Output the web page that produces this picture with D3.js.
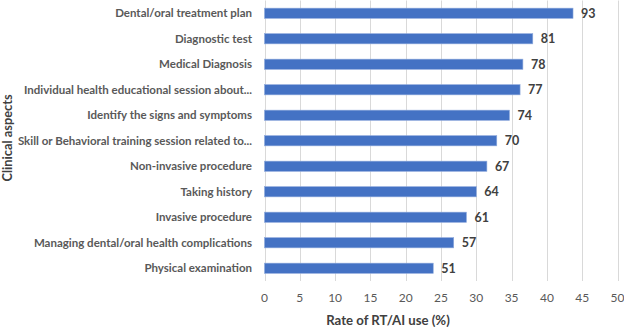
<!DOCTYPE html>
<html>
<head>
<meta charset="utf-8">
<script src="https://cdn.jsdelivr.net/npm/d3@7/dist/d3.min.js"></script>
<style>
  html, body { margin: 0; padding: 0; background: #fff; }
  svg { display: block; }
  text { font-family: Lato, "Open Sans", sans-serif; }
</style>
</head>
<body>
<div id="chart"></div>
<script>
const categories = [
  "Dental/oral treatment plan",
  "Diagnostic test",
  "Medical Diagnosis",
  "Individual health educational session about...",
  "Identify the signs and symptoms",
  "Skill or Behavioral training session related to...",
  "Non-invasive procedure",
  "Taking history",
  "Invasive procedure",
  "Managing dental/oral health complications",
  "Physical examination"
];
const rates = [43.7, 38.0, 36.6, 36.2, 34.7, 32.9, 31.5, 30.0, 28.6, 26.8, 23.9];
const counts = [93, 81, 78, 77, 74, 70, 67, 64, 61, 57, 51];
const xTicks = [0, 5, 10, 15, 20, 25, 30, 35, 40, 45, 50];
const xTitle = "Rate of RT/AI use (%)";
const yTitle = "Clinical aspects";

(function () {
const W = 624, H = 327;
const pLeft = 264.5, pRight = 617.5, pTop = 0.5, pBottom = 281;

const svg = d3.select("#chart").append("svg").attr("width", W).attr("height", H);

const x = d3.scaleLinear().domain([0, 50]).range([pLeft, pRight]);
const y = d3.scaleBand().domain(categories).range([pTop, pBottom]).paddingInner(0.6).paddingOuter(0.3);

// gridlines
svg.append("g").selectAll("line").data(xTicks).join("line")
  .attr("x1", d => Math.round(x(d)) + 0.5).attr("x2", d => Math.round(x(d)) + 0.5)
  .attr("y1", pTop).attr("y2", pBottom)
  .attr("stroke", "#d9d9d9").attr("stroke-width", 1);

// bars
svg.append("g").selectAll("rect").data(categories).join("rect")
  .attr("x", x(0))
  .attr("y", d => y(d))
  .attr("width", (d, i) => x(rates[i]) - x(0))
  .attr("height", y.bandwidth())
  .attr("fill", "#4472C4")
  .attr("stroke", "#8FAADC")
  .attr("stroke-width", 0.6);

// value labels
svg.append("g").selectAll("text").data(categories).join("text")
  .attr("x", (d, i) => x(rates[i]) + 8)
  .attr("y", d => y(d) + y.bandwidth() / 2)
  .attr("dy", "0.35em")
  .attr("font-size", 12.5)
  .attr("font-weight", "bold")
  .attr("fill", "#404040")
  .text((d, i) => counts[i]);

// category labels
svg.append("g").selectAll("text").data(categories).join("text")
  .attr("x", 252)
  .attr("y", d => y(d) + y.bandwidth() / 2)
  .attr("dy", "0.35em")
  .attr("text-anchor", "end")
  .attr("font-size", 11.5)
  .attr("font-weight", "bold")
  .attr("fill", "#595959")
  .text(d => d);

// x tick labels
svg.append("g").selectAll("text").data(xTicks).join("text")
  .attr("x", d => x(d))
  .attr("y", 298)
  .attr("dy", "0.35em")
  .attr("text-anchor", "middle")
  .attr("font-size", 12)
  .attr("fill", "#595959")
  .text(d => d);

// x title
svg.append("text")
  .attr("x", 388).attr("y", 320).attr("dy", "0.35em")
  .attr("text-anchor", "middle")
  .attr("font-size", 13.2).attr("font-weight", "bold")
  .attr("fill", "#404040")
  .text(xTitle);

// y title
svg.append("text")
  .attr("transform", "translate(8,138) rotate(-90)")
  .attr("dy", "0.35em")
  .attr("text-anchor", "middle")
  .attr("font-size", 12.8).attr("font-weight", "bold")
  .attr("fill", "#404040")
  .text(yTitle);
})();
</script>
</body>
</html>
